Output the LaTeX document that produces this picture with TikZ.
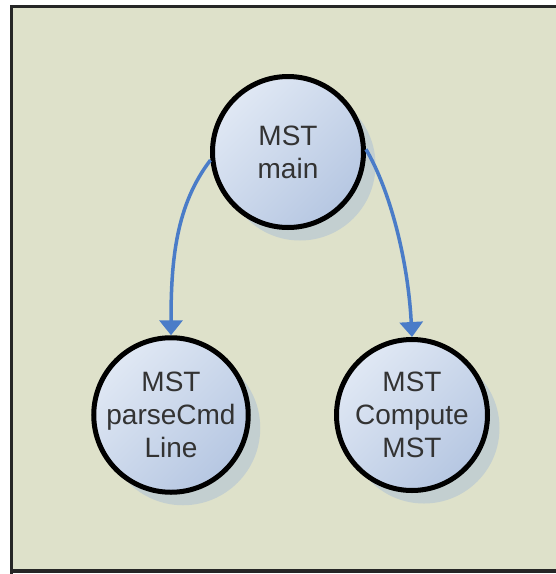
\documentclass[tikz,border=0pt]{standalone}
\usepackage{fontspec}
\setmainfont{Liberation Sans}
\usetikzlibrary{arrows.meta,shadows}
\definecolor{bg}{HTML}{DEE1CA}
\definecolor{shad}{HTML}{C3CFD0}
\definecolor{fillA}{HTML}{E0E8F4}
\definecolor{fillB}{HTML}{B6C7E2}
\definecolor{arr}{HTML}{4A7CC8}
\definecolor{txt}{HTML}{333333}
\tikzset{
  proc/.style={circle, minimum size=151pt, inner sep=0pt, line width=5pt, draw=black,
    left color=fillA, right color=fillB, shading angle=45,
    font=\fontsize{28}{33}\selectfont, text=txt, align=center,
    drop shadow={shadow xshift=12pt, shadow yshift=-13pt, fill=shad, opacity=1}},
  link/.style={draw=arr, line width=3.5pt, -{Triangle[length=15pt,width=23pt]}}
}
\begin{document}
\begin{tikzpicture}[x=1pt,y=-1pt]
\useasboundingbox (0,0) rectangle (556,574);
\fill[bg] (11.5,6.5) rectangle (560,571);
\draw[line width=3.5pt, black!85] (11.5,580) -- (11.5,6.5) -- (560,6.5);
\draw[line width=3.5pt, black!85] (11.5,571) -- (560,571);
\node[proc] (main) at (288,152) {MST\\main};
\node[proc] (parse) at (171,415) {MST\\parseCmd\\Line};
\node[proc] (comp) at (412,415) {MST\\Compute\\MST};
\draw[link] (main.186) .. controls (176,205) and (171,260) .. (parse.north);
\draw[link] (main.2) .. controls (390,190) and (408,260) .. (comp.north);
\end{tikzpicture}
\end{document}
